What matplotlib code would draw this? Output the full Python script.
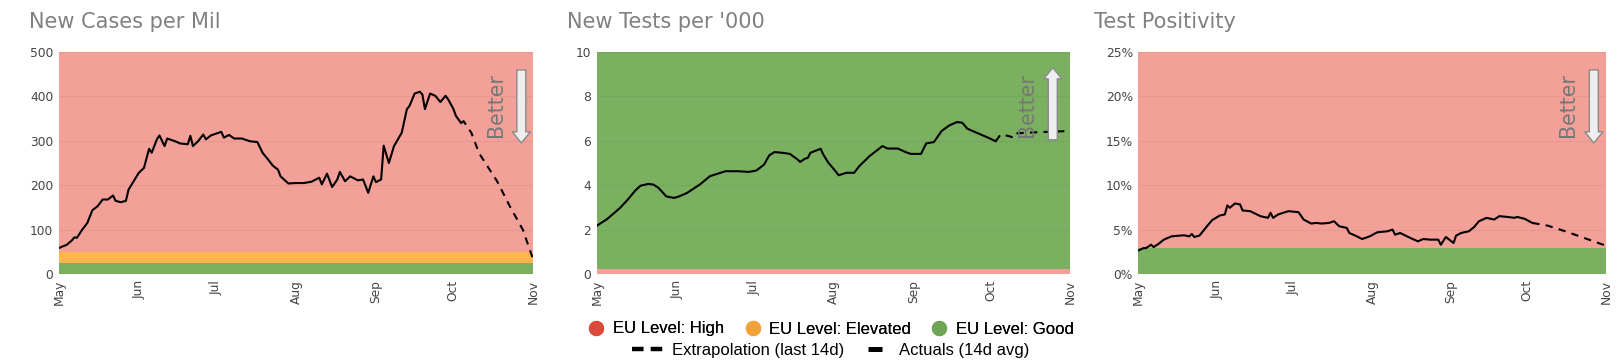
import matplotlib
matplotlib.use("Agg")
import matplotlib.pyplot as plt
import matplotlib.dates as mdates
from matplotlib.lines import Line2D
from matplotlib.ticker import FuncFormatter, MultipleLocator
import pandas as pd

# ---------------- data ----------------
START = "2020-05-01"
END = "2020-11-01"

titles = ["New Cases per Mil", "New Tests per '000", "Test Positivity"]

cases_days = [0, 2, 3, 5, 6, 7, 9, 11, 13, 15, 17, 19, 21, 22, 24, 26, 27, 29, 31, 33,
              35, 36, 38, 39, 41, 42, 45, 47, 50, 51, 52, 54, 56, 57, 59, 63, 64, 66, 68, 71,
              72, 74, 77, 79, 81, 83, 85, 86, 89, 92, 95, 98, 101, 102, 104, 106, 108, 109, 111, 113,
              116, 118, 120, 122, 123, 125, 126, 128, 130, 133, 135, 136, 138, 140, 141, 142, 144, 146, 148, 150,
              151, 153, 154, 156]
cases_vals = [59, 64, 66, 76, 83, 82, 100, 115, 144, 153, 168, 168, 177, 165, 162, 165, 190, 209, 228, 239,
              282, 273, 303, 312, 288, 305, 299, 294, 292, 311, 288, 299, 314, 303, 312, 320, 307, 313, 305, 305,
              303, 299, 297, 273, 259, 244, 235, 220, 204, 205, 205, 208, 217, 202, 226, 196, 213, 230, 209, 220,
              211, 213, 183, 220, 207, 213, 289, 250, 288, 318, 371, 378, 406, 410, 404, 371, 406, 401, 387, 401,
              393, 372, 356, 340]
cases_ext_days = [156, 157, 160, 163, 170, 175, 180, 184]
cases_ext_vals = [340, 344, 318, 272, 209, 152, 100, 33]

tests_days = [0, 4, 9, 12, 15, 17, 20, 22, 24, 27, 30, 32, 35, 40, 44, 50, 55, 59, 62, 65,
              67, 69, 72, 75, 78, 79, 81, 82, 83, 87, 88, 90, 92, 94, 97, 100, 102, 106, 109, 111,
              113, 117, 120, 122, 126, 128, 131, 134, 137, 140, 142, 144, 146, 149, 152, 155]
tests_vals = [2.18, 2.48, 2.98, 3.35, 3.77, 3.98, 4.06, 4.03, 3.88, 3.50, 3.43, 3.50, 3.65, 4.03, 4.41, 4.63, 4.63, 4.60, 4.66, 4.93,
              5.34, 5.49, 5.46, 5.41, 5.16, 5.05, 5.20, 5.23, 5.46, 5.64, 5.38, 5.01, 4.74, 4.45, 4.56, 4.56, 4.86, 5.31, 5.58, 5.76,
              5.65, 5.65, 5.49, 5.41, 5.41, 5.88, 5.94, 6.44, 6.69, 6.84, 6.81, 6.54, 6.44, 6.29, 6.14, 5.98]
tests_ext_days = [155, 157, 160, 162, 163, 167, 184]
tests_ext_vals = [5.98, 6.29, 6.21, 6.14, 6.33, 6.36, 6.44]

pos_days = [0, 2, 3, 5, 6, 8, 10, 13, 16, 18, 20, 21, 22, 24, 27, 29, 32, 34, 35, 36,
            38, 40, 41, 44, 48, 51, 52, 53, 55, 57, 59, 63, 65, 68, 70, 72, 75, 77, 79, 82,
            83, 86, 88, 91, 94, 98, 100, 101, 103, 107, 110, 112, 115, 118, 119, 121, 124, 125, 127, 130,
            132, 134, 137, 140, 142, 145, 148, 149, 152, 155]
pos_vals = [2.68, 2.94, 2.94, 3.32, 3.06, 3.43, 3.89, 4.26, 4.34, 4.38, 4.26, 4.53, 4.19, 4.34, 5.40, 6.08, 6.60, 6.72, 7.74, 7.47,
            7.96, 7.85, 7.17, 7.09, 6.53, 6.34, 6.91, 6.34, 6.72, 6.91, 7.09, 6.98, 6.15, 5.70, 5.77, 5.70, 5.77, 5.96, 5.40, 5.21,
            4.64, 4.26, 3.96, 4.26, 4.72, 4.83, 5.02, 4.45, 4.64, 4.08, 3.70, 3.96, 3.89, 3.89, 3.32, 4.19, 3.51, 4.34, 4.64, 4.83,
            5.28, 5.96, 6.34, 6.15, 6.53, 6.45, 6.34, 6.45, 6.23, 5.77]
pos_ext_days = [155, 161, 168, 184]
pos_ext_vals = [5.77, 5.47, 4.83, 3.21]

# EU level bands (lower, upper, level)
cases_bands = [(0, 25, "good"), (25, 50, "elevated"), (50, 500, "high")]
tests_bands = [(0, 0.25, "high"), (0.25, 10, "good")]
pos_bands = [(0, 3, "good"), (3, 25, "high")]

y_limits = [(0, 500), (0, 10), (0, 25)]
y_steps = [100, 2, 5]
better_dirs = ["down", "up", "down"]

legend_labels = ["EU Level: High", "EU Level: Elevated", "EU Level: Good"]
line_labels = ["Extrapolation (last 14d)", "Actuals (14d avg)"]

# ---------------- style ----------------
band_colors = {"high": "#f2a098", "elevated": "#fcb64c", "good": "#7ab060"}
dot_colors = {"high": "#dc4b3a", "elevated": "#f1a23a", "good": "#6ea656"}
W, H = 1619, 364
fig = plt.figure(figsize=(W / 100, H / 100), dpi=100)

axes_px = [(58.9, 474.3), (596.8, 473.5), (1138.4, 467.6)]
title_x = [29, 567, 1094]
bottom = 1 - 274.3 / H
height = 222.6 / H

start = pd.Timestamp(START)
end = pd.Timestamp(END)

series = [
    (cases_days, cases_vals, cases_ext_days, cases_ext_vals, cases_bands),
    (tests_days, tests_vals, tests_ext_days, tests_ext_vals, tests_bands),
    (pos_days, pos_vals, pos_ext_days, pos_ext_vals, pos_bands),
]
better_pos = [(0.921, 0.975), (0.909, 0.963), (0.918, 0.974)]

for i, (d, v, ed, ev, bands) in enumerate(series):
    left, width = axes_px[i]
    ax = fig.add_axes([left / W, bottom, width / W, height])
    for lo, hi, lvl in bands:
        ax.axhspan(lo, hi, color=band_colors[lvl], lw=0, zorder=0.5)
    dates = start + pd.to_timedelta(d, unit="D")
    edates = start + pd.to_timedelta(ed, unit="D")
    ax.plot(dates, v, color="black", lw=1.5, zorder=3)
    ax.plot(edates, ev, color="black", lw=1.5, dashes=(3.5, 3), zorder=3)
    ax.set_xlim(start, end)
    ax.set_ylim(*y_limits[i])
    ax.yaxis.set_major_locator(MultipleLocator(y_steps[i]))
    if i == 2:
        ax.yaxis.set_major_formatter(FuncFormatter(lambda x, p: f"{x:.0f}%"))
    ax.xaxis.set_major_locator(mdates.MonthLocator())
    ax.xaxis.set_major_formatter(mdates.DateFormatter("%b"))
    ax.tick_params(axis="both", length=0, labelsize=8.8, labelcolor="#444444", pad=4)
    ax.tick_params(axis="x", labelrotation=90)
    ax.grid(axis="y", color="black", alpha=0.045, lw=0.9)
    ax.set_axisbelow("line")
    for s in ax.spines.values():
        s.set_visible(False)
    # Better annotation
    tx, axx = better_pos[i]
    ax.text(tx, 0.761, "Better", rotation=90, transform=ax.transAxes, ha="center", va="center",
            fontsize=14.8, color="#777777", zorder=5)
    if better_dirs[i] == "down":
        xy, xyt = (axx, 0.59), (axx, 0.918)
    else:
        xy, xyt = (axx, 0.928), (axx, 0.604)
    ax.annotate("", xy=xy, xytext=xyt, xycoords="axes fraction", textcoords="axes fraction",
                arrowprops=dict(arrowstyle="simple,head_length=8,head_width=13,tail_width=6.5",
                                mutation_scale=1, fc="#eeeeee", ec="#8a8a8a", lw=1,
                                shrinkA=0, shrinkB=0), zorder=6)
    fig.text(title_x[i] / W, 1 - 28 / H, titles[i], fontsize=15, color="#808080",
             ha="left", va="baseline")

# Legends
lp = {"family": "Liberation Sans", "size": 12}
dots = [Line2D([], [], marker="o", ls="none", color=dot_colors[k], markersize=10)
        for k in ["high", "elevated", "good"]]
leg1 = fig.legend(dots, legend_labels, loc="center", bbox_to_anchor=(831 / W, 1 - 329 / H),
                  ncol=3, frameon=False, prop=lp, handlelength=1.0, handletextpad=0.5,
                  columnspacing=1.2, borderpad=0, borderaxespad=0)
lines = [Line2D([], [], color="black", lw=3.2, dashes=(2.6, 1.6), solid_capstyle="butt",
                dash_capstyle="butt"),
         Line2D([], [], color="black", marker="_", ls="none", markersize=10, mew=3.6)]
leg2 = fig.legend(lines, line_labels, loc="center", bbox_to_anchor=(831 / W, 1 - 350 / H),
                  ncol=2, frameon=False, prop=lp, handlelength=1.9, handletextpad=0.5,
                  columnspacing=0.9, borderpad=0, borderaxespad=0)
fig.add_artist(leg1)

fig.savefig("out.png", dpi=100)
